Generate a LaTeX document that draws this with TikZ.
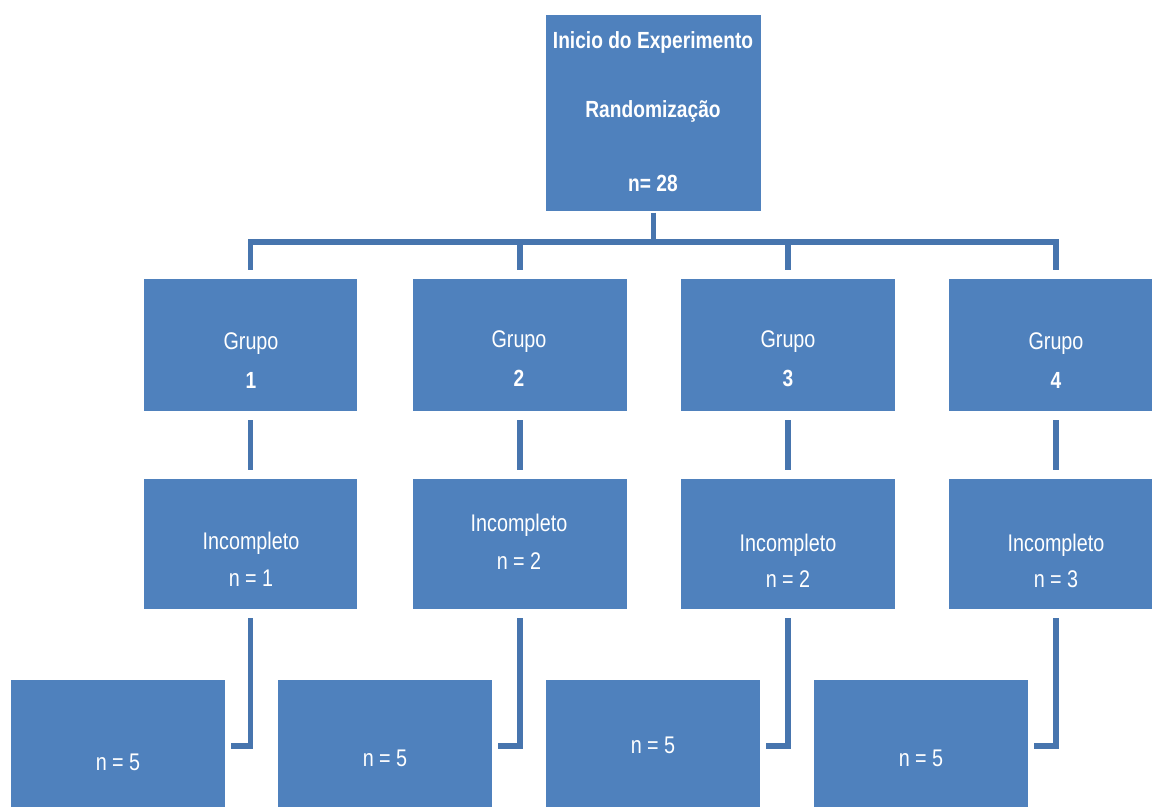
\documentclass[tikz,border=0pt]{standalone}
\usepackage{fontspec}
\setmainfont[FakeStretch=0.82]{Liberation Sans}
\usepackage{tikz}
\usetikzlibrary{positioning}
\definecolor{boxblue}{HTML}{4F81BD}
\definecolor{lineblue}{HTML}{4775AE}
\tikzset{
  caixa/.style={rectangle,fill=boxblue,draw=white,line width=0.6pt,inner sep=0pt,minimum width=4.3cm,minimum height=2.68cm},
  topo/.style={caixa,minimum width=4.34cm,minimum height=3.96cm},
  liga/.style={draw=lineblue,line width=3.4pt},
  txt/.style={text=white,font=\fontsize{13.7}{16}\selectfont},
  txtb/.style={text=white,font=\fontsize{13.3}{16}\selectfont\bfseries}
}
\begin{document}
\begin{tikzpicture}[x=0.02cm,y=-0.02cm]
\useasboundingbox (0,0) rectangle (1152,807);
\clip (0,0) rectangle (1152,807);
% boxes
\node[topo] (inicio) at (653.5,113) {};
\node[caixa] (g1) at (250.5,345) {};
\node[caixa] (g2) at (520,345) {};
\node[caixa] (g3) at (788,345) {};
\node[caixa] (g4) at (1056,345) {};
\node[caixa,minimum height=2.64cm] (i1) at (250.5,544) {};
\node[caixa,minimum height=2.64cm] (i2) at (520,544) {};
\node[caixa,minimum height=2.64cm] (i3) at (788,544) {};
\node[caixa,minimum height=2.64cm] (i4) at (1056,544) {};
\node[caixa] (b1) at (118,746) {};
\node[caixa] (b2) at (385,746) {};
\node[caixa] (b3) at (653,746) {};
\node[caixa] (b4) at (921,746) {};
% connectors
\coordinate (barra) at (inicio.south |- 0,242);
\draw[liga] (inicio.south) -- (barra);
\draw[liga,shorten >=4.5pt] (barra) -| (g1.north);
\draw[liga,shorten >=4.5pt] (barra) -| (g2.north);
\draw[liga,shorten >=4.5pt] (barra) -| (g3.north);
\draw[liga,shorten >=4.5pt] (barra) -| (g4.north);
\draw[liga,shorten <=4.5pt,shorten >=4.5pt] (g1.south) -- (i1.north);
\draw[liga,shorten <=4.5pt,shorten >=4.5pt] (g2.south) -- (i2.north);
\draw[liga,shorten <=4.5pt,shorten >=4.5pt] (g3.south) -- (i3.north);
\draw[liga,shorten <=4.5pt,shorten >=4.5pt] (g4.south) -- (i4.north);
\draw[liga,shorten <=4.5pt,shorten >=3pt] (i1.south) |- (b1.east);
\draw[liga,shorten <=4.5pt,shorten >=3pt] (i2.south) |- (b2.east);
\draw[liga,shorten <=4.5pt,shorten >=3pt] (i3.south) |- (b3.east);
\draw[liga,shorten <=4.5pt,shorten >=3pt] (i4.south) |- (b4.east);
% texts
\node[txtb] (t0a) at (653,42) {Inicio do Experimento};
\node[txtb] (t0b) at (653,111) {Randomização};
\node[txtb] (t0c) at (653,183) {n= 28};
\node[txt] (t1a) at (251,344) {Grupo};
\node[txtb] (t1b) at (251,380) {1};
\node[txt] (t2a) at (519,342) {Grupo};
\node[txtb] (t2b) at (519,378) {2};
\node[txt] (t3a) at (788,342) {Grupo};
\node[txtb] (t3b) at (788,378) {3};
\node[txt] (t4a) at (1056,344) {Grupo};
\node[txtb] (t4b) at (1056,380) {4};
\node[txt] (u1a) at (251,543) {Incompleto};
\node[txt] (u1b) at (251,578) {n = 1};
\node[txt] (u2a) at (519,525) {Incompleto};
\node[txt] (u2b) at (519,561) {n = 2};
\node[txt] (u3a) at (788,545) {Incompleto};
\node[txt] (u3b) at (788,579) {n = 2};
\node[txt] (u4a) at (1056,545) {Incompleto};
\node[txt] (u4b) at (1056,579) {n = 3};
\node[txt] (v1) at (118,762) {n = 5};
\node[txt] (v2) at (385,758) {n = 5};
\node[txt] (v3) at (653,745) {n = 5};
\node[txt] (v4) at (921,758) {n = 5};
\end{tikzpicture}
\end{document}
